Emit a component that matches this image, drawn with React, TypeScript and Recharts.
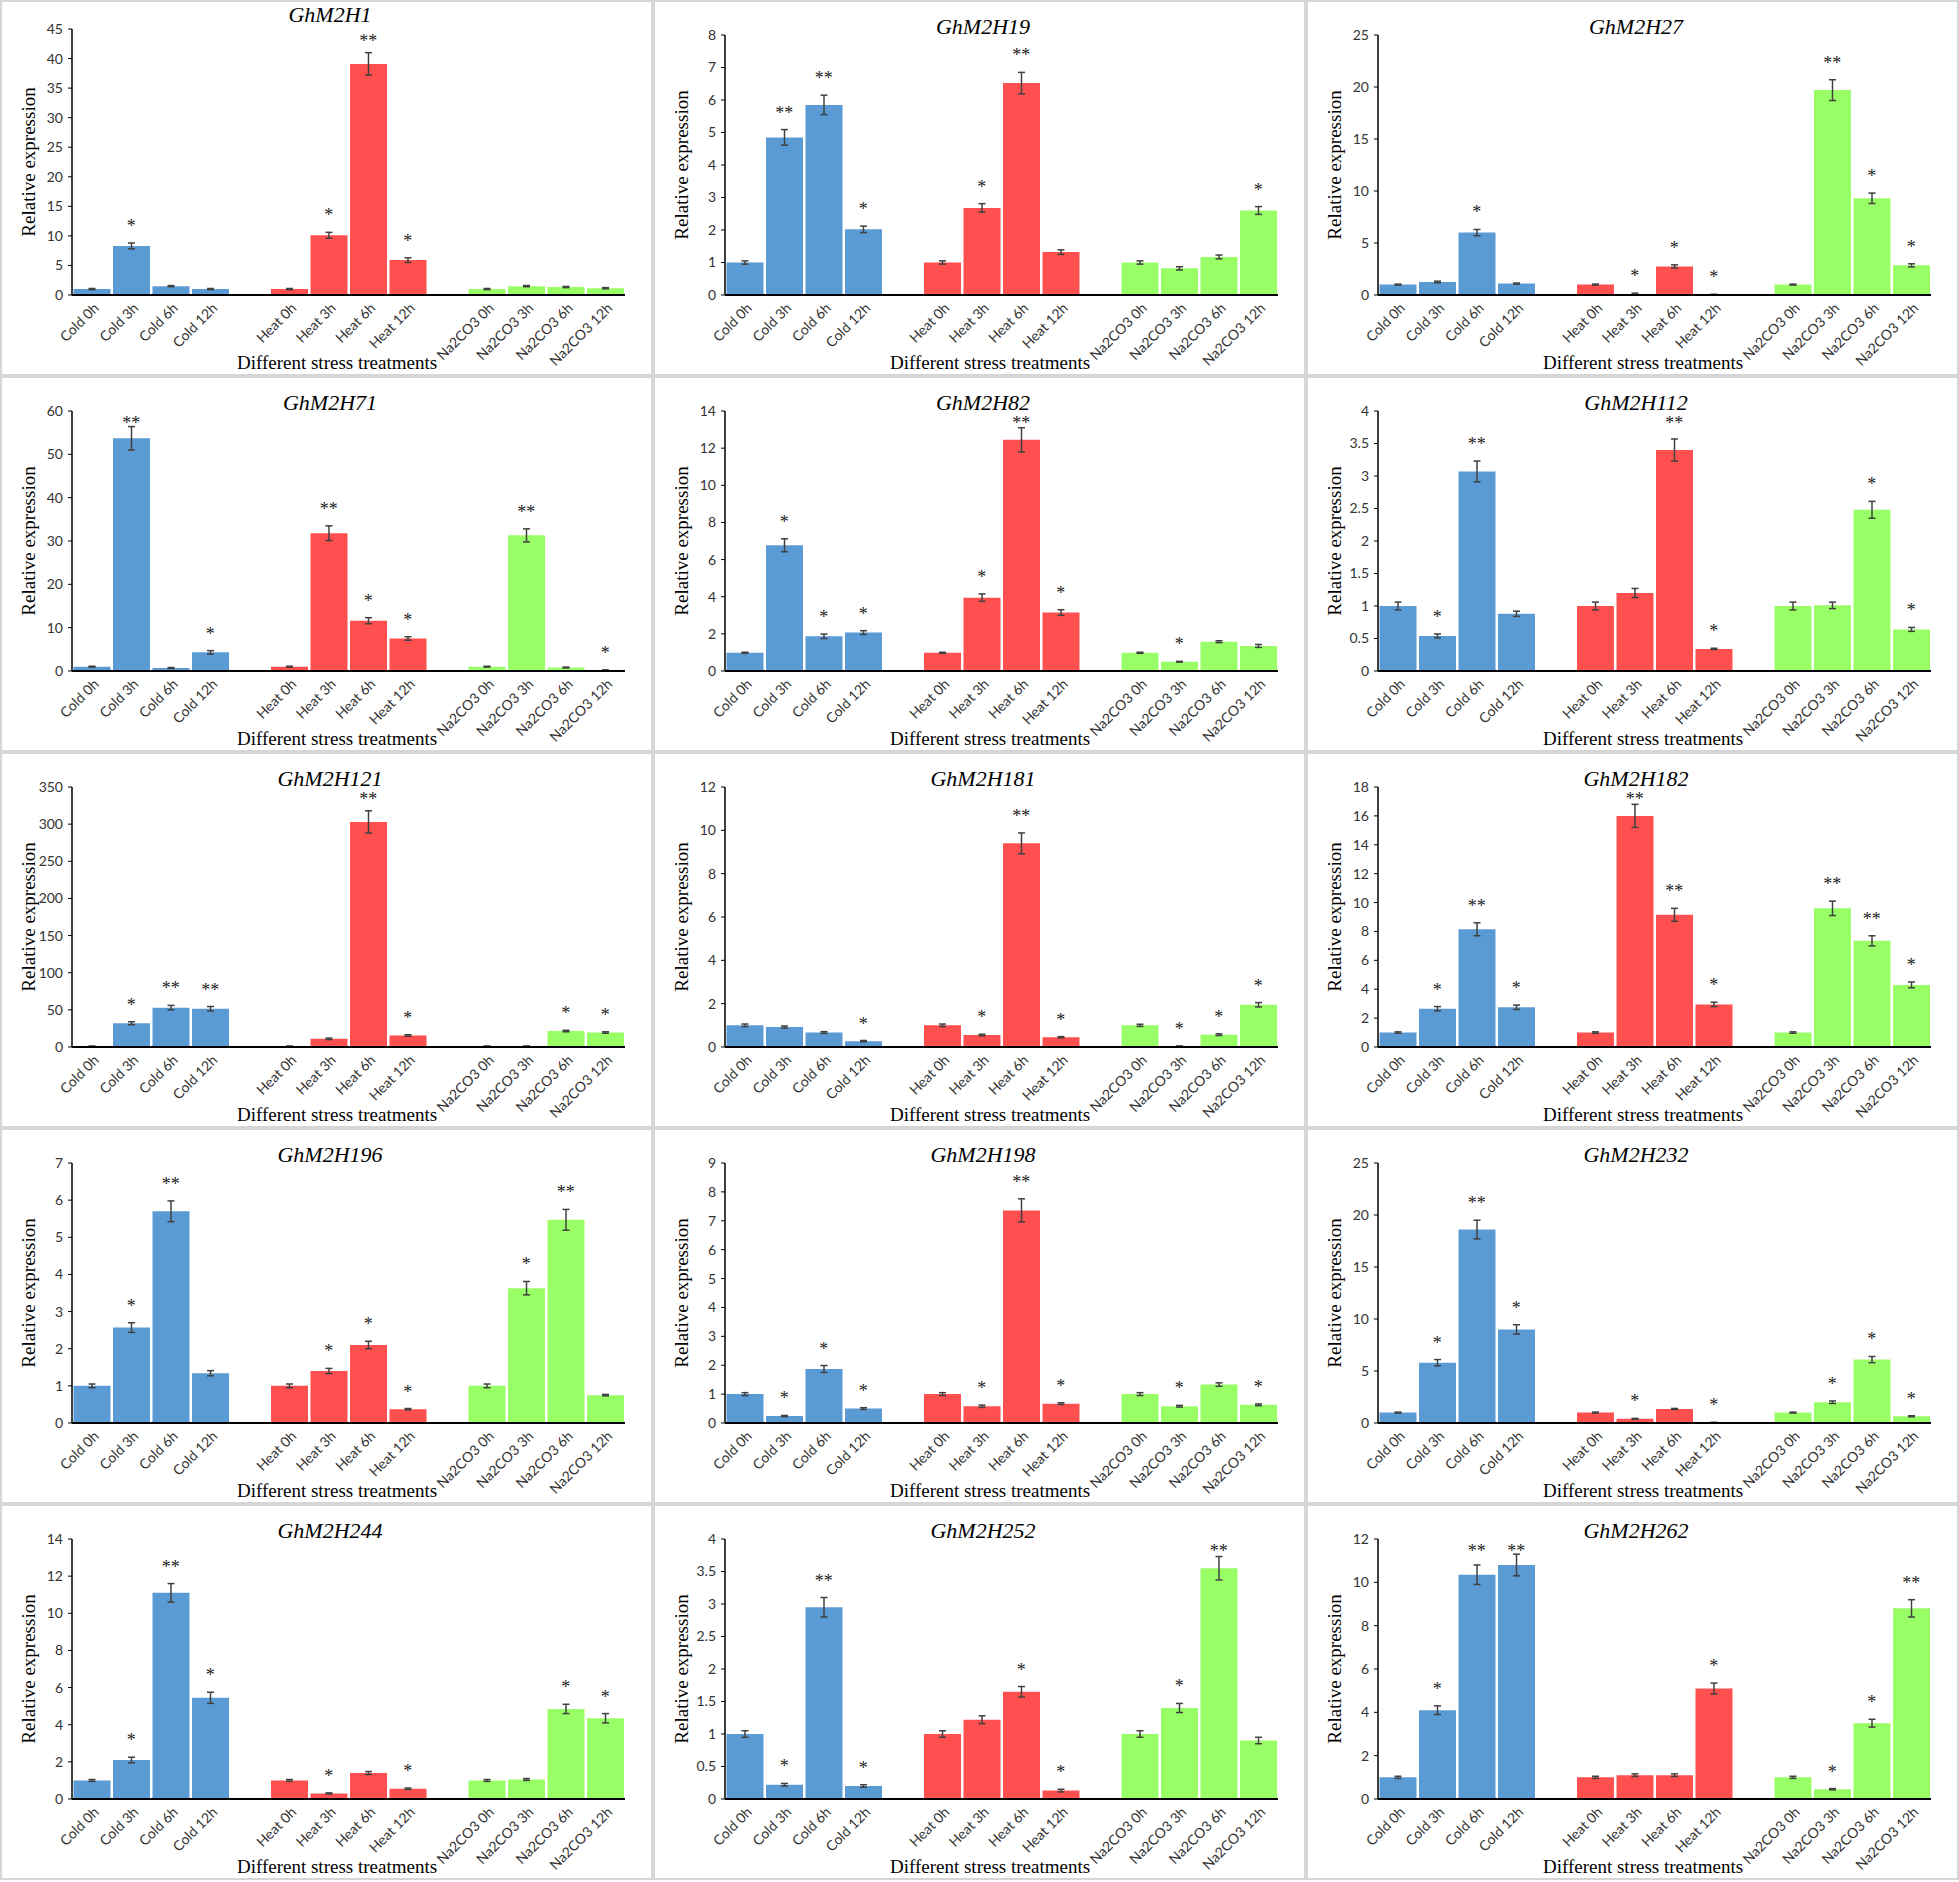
import React from 'react';
import { ComposedChart, Bar, Cell, ErrorBar, Scatter, XAxis, YAxis } from 'recharts';

// x slots: 4 bars per treatment, an empty slot between treatments
const categories = [
  'Cold 0h', 'Cold 3h', 'Cold 6h', 'Cold 12h', '',
  'Heat 0h', 'Heat 3h', 'Heat 6h', 'Heat 12h', '',
  'Na2CO3 0h', 'Na2CO3 3h', 'Na2CO3 6h', 'Na2CO3 12h',
];
const groupColors = ['#5B9BD5', '#FF4F4F', '#99FF66'];

const h1Val = [1.0, 8.3, 1.5, 1.0, 1.0, 10.1, 39.1, 5.9, 1.0, 1.5, 1.35, 1.15];
const h1Err = [0.1, 0.5, 0.1, 0.1, 0.1, 0.5, 1.9, 0.4, 0.1, 0.1, 0.1, 0.1];
const h1Sig = ['', '*', '', '', '', '*', '**', '*', '', '', '', ''];
const h1Ticks = [0, 5, 10, 15, 20, 25, 30, 35, 40, 45];

const h19Val = [1.0, 4.85, 5.85, 2.02, 1.0, 2.68, 6.52, 1.32, 1.0, 0.82, 1.17, 2.6];
const h19Err = [0.05, 0.24, 0.3, 0.1, 0.05, 0.13, 0.33, 0.07, 0.05, 0.05, 0.06, 0.12];
const h19Sig = ['', '**', '**', '*', '', '*', '**', '', '', '', '', '*'];
const h19Ticks = [0, 1, 2, 3, 4, 5, 6, 7, 8];

const h27Val = [1.0, 1.25, 6.0, 1.1, 1.0, 0.1, 2.75, 0.05, 1.0, 19.7, 9.3, 2.85];
const h27Err = [0.05, 0.08, 0.3, 0.05, 0.05, 0.08, 0.15, 0.02, 0.05, 1.0, 0.5, 0.15];
const h27Sig = ['', '', '*', '', '', '*', '*', '*', '', '**', '*', '*'];
const h27Ticks = [0, 5, 10, 15, 20, 25];

const h71Val = [1.0, 53.7, 0.7, 4.3, 1.0, 31.8, 11.6, 7.5, 1.0, 31.3, 0.8, 0.2];
const h71Err = [0.1, 2.7, 0.1, 0.4, 0.1, 1.7, 0.7, 0.4, 0.1, 1.5, 0.1, 0.05];
const h71Sig = ['', '**', '', '*', '', '**', '*', '*', '', '**', '', '*'];
const h71Ticks = [0, 10, 20, 30, 40, 50, 60];

const h82Val = [0.98, 6.77, 1.87, 2.07, 0.98, 3.95, 12.45, 3.15, 0.98, 0.5, 1.58, 1.35];
const h82Err = [0.03, 0.35, 0.12, 0.1, 0.03, 0.2, 0.65, 0.15, 0.03, 0.02, 0.05, 0.08];
const h82Sig = ['', '*', '*', '*', '', '*', '**', '*', '', '*', '', ''];
const h82Ticks = [0, 2, 4, 6, 8, 10, 12, 14];

const h112Val = [1.0, 0.54, 3.07, 0.88, 1.0, 1.2, 3.4, 0.34, 1.0, 1.01, 2.48, 0.64];
const h112Err = [0.06, 0.03, 0.16, 0.04, 0.06, 0.07, 0.17, 0.01, 0.06, 0.05, 0.13, 0.03];
const h112Sig = ['', '*', '**', '', '', '', '**', '*', '', '', '*', '*'];
const h112Ticks = [0, 0.5, 1, 1.5, 2, 2.5, 3, 3.5, 4];

const h121Val = [1, 32, 53, 51.5, 1, 11, 303, 15.5, 1, 1, 21.5, 19.5];
const h121Err = [0.2, 2, 3, 3, 0.2, 1, 15, 1, 0.2, 0.3, 1, 1];
const h121Sig = ['', '*', '**', '**', '', '', '**', '*', '', '', '*', '*'];
const h121Ticks = [0, 50, 100, 150, 200, 250, 300, 350];

const h181Val = [1.0, 0.92, 0.67, 0.27, 1.0, 0.55, 9.4, 0.45, 1.0, 0.03, 0.57, 1.95];
const h181Err = [0.06, 0.05, 0.04, 0.03, 0.06, 0.04, 0.48, 0.03, 0.05, 0.02, 0.04, 0.1];
const h181Sig = ['', '', '', '*', '', '*', '**', '*', '', '*', '*', '*'];
const h181Ticks = [0, 2, 4, 6, 8, 10, 12];

const h182Val = [1.0, 2.65, 8.15, 2.75, 1.0, 16.0, 9.15, 2.95, 1.0, 9.6, 7.35, 4.3];
const h182Err = [0.05, 0.15, 0.45, 0.15, 0.05, 0.8, 0.45, 0.15, 0.05, 0.5, 0.35, 0.2];
const h182Sig = ['', '*', '**', '*', '', '**', '**', '*', '', '**', '**', '*'];
const h182Ticks = [0, 2, 4, 6, 8, 10, 12, 14, 16, 18];

const h196Val = [1.0, 2.57, 5.7, 1.34, 1.0, 1.4, 2.1, 0.37, 1.0, 3.63, 5.47, 0.75];
const h196Err = [0.05, 0.13, 0.28, 0.07, 0.05, 0.07, 0.1, 0.02, 0.05, 0.18, 0.28, 0.02];
const h196Sig = ['', '*', '**', '', '', '*', '*', '*', '', '*', '**', ''];
const h196Ticks = [0, 1, 2, 3, 4, 5, 6, 7];

const h198Val = [1.0, 0.24, 1.87, 0.5, 1.0, 0.58, 7.36, 0.67, 1.0, 0.58, 1.33, 0.63];
const h198Err = [0.05, 0.02, 0.12, 0.03, 0.05, 0.04, 0.4, 0.03, 0.05, 0.03, 0.06, 0.03];
const h198Sig = ['', '*', '*', '*', '', '*', '**', '*', '', '*', '', '*'];
const h198Ticks = [0, 1, 2, 3, 4, 5, 6, 7, 8, 9];

const h232Val = [1.0, 5.8, 18.6, 9.0, 1.0, 0.4, 1.35, 0.05, 1.0, 2.0, 6.1, 0.65];
const h232Err = [0.05, 0.3, 0.9, 0.45, 0.05, 0.04, 0.05, 0.01, 0.05, 0.12, 0.3, 0.05];
const h232Sig = ['', '*', '**', '*', '', '*', '', '*', '', '*', '*', '*'];
const h232Ticks = [0, 5, 10, 15, 20, 25];

const h244Val = [1.0, 2.1, 11.1, 5.45, 1.0, 0.3, 1.4, 0.55, 1.0, 1.05, 4.85, 4.35];
const h244Err = [0.05, 0.15, 0.5, 0.3, 0.05, 0.03, 0.08, 0.04, 0.05, 0.05, 0.25, 0.25];
const h244Sig = ['', '*', '**', '*', '', '*', '', '*', '', '', '*', '*'];
const h244Ticks = [0, 2, 4, 6, 8, 10, 12, 14];

const h252Val = [1.0, 0.22, 2.95, 0.2, 1.0, 1.22, 1.65, 0.13, 1.0, 1.4, 3.55, 0.9];
const h252Err = [0.05, 0.02, 0.15, 0.02, 0.05, 0.06, 0.08, 0.02, 0.05, 0.07, 0.18, 0.05];
const h252Sig = ['', '*', '**', '*', '', '', '*', '*', '', '*', '**', ''];
const h252Ticks = [0, 0.5, 1, 1.5, 2, 2.5, 3, 3.5, 4];

const h262Val = [1.0, 4.1, 10.35, 10.8, 1.0, 1.1, 1.1, 5.1, 1.0, 0.45, 3.5, 8.8];
const h262Err = [0.05, 0.2, 0.45, 0.5, 0.05, 0.06, 0.06, 0.25, 0.05, 0.03, 0.18, 0.4];
const h262Sig = ['', '*', '**', '**', '', '', '', '*', '', '*', '*', '**'];
const h262Ticks = [0, 2, 4, 6, 8, 10, 12];

const panels = [
  { name: 'GhM2H1', val: h1Val, err: h1Err, sig: h1Sig, ticks: h1Ticks },
  { name: 'GhM2H19', val: h19Val, err: h19Err, sig: h19Sig, ticks: h19Ticks },
  { name: 'GhM2H27', val: h27Val, err: h27Err, sig: h27Sig, ticks: h27Ticks },
  { name: 'GhM2H71', val: h71Val, err: h71Err, sig: h71Sig, ticks: h71Ticks },
  { name: 'GhM2H82', val: h82Val, err: h82Err, sig: h82Sig, ticks: h82Ticks },
  { name: 'GhM2H112', val: h112Val, err: h112Err, sig: h112Sig, ticks: h112Ticks },
  { name: 'GhM2H121', val: h121Val, err: h121Err, sig: h121Sig, ticks: h121Ticks },
  { name: 'GhM2H181', val: h181Val, err: h181Err, sig: h181Sig, ticks: h181Ticks },
  { name: 'GhM2H182', val: h182Val, err: h182Err, sig: h182Sig, ticks: h182Ticks },
  { name: 'GhM2H196', val: h196Val, err: h196Err, sig: h196Sig, ticks: h196Ticks },
  { name: 'GhM2H198', val: h198Val, err: h198Err, sig: h198Sig, ticks: h198Ticks },
  { name: 'GhM2H232', val: h232Val, err: h232Err, sig: h232Sig, ticks: h232Ticks },
  { name: 'GhM2H244', val: h244Val, err: h244Err, sig: h244Sig, ticks: h244Ticks },
  { name: 'GhM2H252', val: h252Val, err: h252Err, sig: h252Sig, ticks: h252Ticks },
  { name: 'GhM2H262', val: h262Val, err: h262Err, sig: h262Sig, ticks: h262Ticks },
];

const PANEL_W = 653;
const PANEL_H = 376;
const SERIF = '"Liberation Serif", "Times New Roman", serif';
const SANS = 'Lato, "Noto Sans", sans-serif';
// the first panel of the source figure sits a bit higher than the rest
const plotTop: Record<string, number> = { GhM2H1: 29 };
const titleTop: Record<string, number> = { GhM2H1: 4 };

function buildRows(val: number[], err: number[], sig: string[]) {
  let k = 0;
  return categories.map((cat) => {
    if (cat === '') return { cat, value: null, err: null, sig: '', sigY: null, color: 'none' };
    const i = k++;
    return {
      cat,
      value: val[i],
      err: err[i],
      sig: sig[i],
      sigY: sig[i] ? val[i] + err[i] : null,
      color: groupColors[Math.floor(i / 4)],
    };
  });
}

const SlantTick = (props: any) => {
  const { x, y, payload } = props;
  if (!payload || !payload.value) return <g />;
  const tx = x + 8;
  const ty = y + 14;
  return (
    <text x={tx} y={ty} transform={`rotate(-45 ${tx} ${ty})`} textAnchor="end"
      fontSize={14} fontFamily={SANS} fill="#333">
      {payload.value}
    </text>
  );
};

// significance marks sit ~20px over the error bar, but never above the top of the plot
const StarMark = (props: any) => {
  const { cx, cy, payload, minY } = props;
  if (!payload || !payload.sig || cy == null || isNaN(cy)) return <g />;
  const mid = Math.max(cy - 20, minY);
  return (
    <text x={cx} y={mid + 9} textAnchor="middle" fontSize={18} fontFamily={SERIF} fill="#222">
      {payload.sig}
    </text>
  );
};

const YTitle = (props: any) => {
  const vb = props.viewBox || { y: 35, height: 260 };
  const cx = 28;
  const cy = vb.y + vb.height / 2;
  return (
    <text x={cx} y={cy} transform={`rotate(-90 ${cx} ${cy})`} textAnchor="middle"
      dominantBaseline="central" fontSize={19} fontFamily={SERIF} fill="#000">
      Relative expression
    </text>
  );
};

const XTitle = () => (
  <text x={337} y={369} textAnchor="middle" fontSize={19} fontFamily={SERIF} fill="#000">
    Different stress treatments
  </text>
);

const Panel = ({ p }: { p: typeof panels[number] }) => {
  const rows = buildRows(p.val, p.err, p.sig);
  const max = p.ticks[p.ticks.length - 1];
  const top = plotTop[p.name] ?? 35;
  const tTop = titleTop[p.name] ?? 16;
  return (
    <div style={{ position: 'relative', width: PANEL_W, height: PANEL_H, background: '#fff' }}>
      <ComposedChart width={PANEL_W} height={PANEL_H} data={rows}
        margin={{ top, right: 28, left: 0, bottom: 0 }} barCategoryGap={1.5}>
        <XAxis dataKey="cat" type="category" height={81} interval={0}
          axisLine={{ stroke: '#000', strokeWidth: 2 }} tickLine={false}
          tickSize={0} tickMargin={0} tick={<SlantTick />} label={<XTitle />} />
        <YAxis type="number" width={72} domain={[0, max]} ticks={p.ticks} interval={0}
          axisLine={{ stroke: '#000', strokeWidth: 1.5 }}
          tickLine={{ stroke: '#000' }} tickSize={4} tickMargin={5}
          tick={{ fontSize: 14, fontFamily: SANS, fill: '#333' }} label={<YTitle />} />
        <Bar dataKey="value" isAnimationActive={false}>
          {rows.map((r, i) => (
            <Cell key={i} fill={r.color} />
          ))}
          <ErrorBar dataKey="err" direction="y" width={3.5} stroke="#404040" strokeWidth={1.5}
            isAnimationActive={false} />
        </Bar>
        <Scatter dataKey="sigY" isAnimationActive={false}
          shape={(s: any) => <StarMark {...s} minY={top + 9} />} />
      </ComposedChart>
      <div style={{
        position: 'absolute', left: 330, top: tTop, transform: 'translateX(-50%)',
        fontFamily: SERIF, fontStyle: 'italic', fontSize: 22, lineHeight: '22px',
        color: '#000', whiteSpace: 'nowrap',
      }}>
        {p.name}
      </div>
      <div style={{
        position: 'absolute', left: 0, top: 0, width: PANEL_W, height: PANEL_H,
        boxSizing: 'border-box', border: '2px solid #d6d6d6', pointerEvents: 'none',
      }} />
    </div>
  );
};

export default function App() {
  return (
    <div style={{
      position: 'absolute', left: 0, top: 0, width: 1959, height: 1882, background: '#fff',
      display: 'grid', gridTemplateColumns: `repeat(3, ${PANEL_W}px)`, gridAutoRows: `${PANEL_H}px`,
    }}>
      {panels.map((p) => (
        <Panel key={p.name} p={p} />
      ))}
    </div>
  );
}
